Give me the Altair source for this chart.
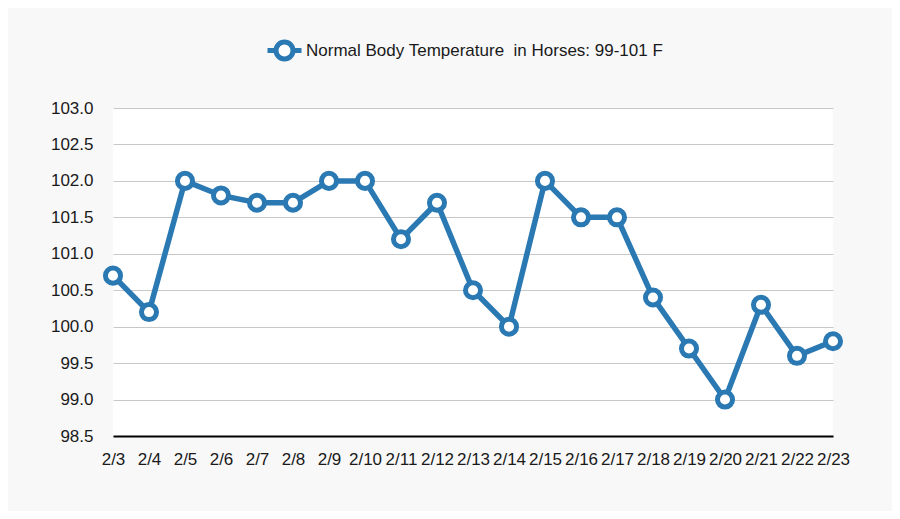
import altair as alt
import pandas as pd

dates = ["2/3", "2/4", "2/5", "2/6", "2/7", "2/8", "2/9", "2/10", "2/11", "2/12",
         "2/13", "2/14", "2/15", "2/16", "2/17", "2/18", "2/19", "2/20", "2/21",
         "2/22", "2/23"]
temps = [100.7, 100.2, 102.0, 101.8, 101.7, 101.7, 102.0, 102.0, 101.2, 101.7,
         100.5, 100.0, 102.0, 101.5, 101.5, 100.4, 99.7, 99.0, 100.3, 99.6, 99.8]
y_ticks = [98.5, 99.0, 99.5, 100.0, 100.5, 101.0, 101.5, 102.0, 102.5, 103.0]
series_name = "Normal Body Temperature \u00a0in Horses: 99-101 F"

df = pd.DataFrame({"date": dates, "temp": temps, "series": [series_name] * len(dates)})

BLUE = "#2a79b3"
FONT = "Liberation Sans"
FS = 17

x = alt.X(
    "date:N", sort=dates,
    scale=alt.Scale(type="point", padding=0),
    axis=alt.Axis(title=None, labelAngle=0, labelFontSize=FS, labelFont=FONT,
                  labelColor="#1a1a1a", domainColor="black", domainWidth=2,
                  ticks=False, labelPadding=15, labelOverlap=False, grid=False),
)
y = alt.Y(
    "temp:Q",
    scale=alt.Scale(domain=[98.5, 103.0], zero=False, nice=False),
    axis=alt.Axis(title=None, values=y_ticks, format=".1f", labelFontSize=FS,
                  labelFont=FONT, labelColor="#1a1a1a", labelPadding=20,
                  ticks=False, domain=False, gridColor="#c8c8c8", gridWidth=1),
)

legend_symbol = "M-1,0H-0.5M0.5,0H1M-0.5,0A0.5,0.5,0,1,1,0.5,0A0.5,0.5,0,1,1,-0.5,0Z"

line = alt.Chart(df).mark_line(strokeWidth=5.5).encode(
    x=x, y=y,
    color=alt.Color(
        "series:N",
        scale=alt.Scale(range=[BLUE]),
        legend=alt.Legend(
            title=None, orient="none", legendX=152, legendY=-77, padding=0,
            symbolType=legend_symbol, symbolSize=1156, symbolStrokeWidth=5,
            symbolStrokeColor=BLUE, symbolFillColor="white",
            labelFontSize=FS, labelFont=FONT, labelColor="#1a1a1a",
            labelLimit=600, labelOffset=2,
        ),
    ),
)
points = alt.Chart(df).mark_point(
    filled=False, fill="white", fillOpacity=1, stroke=BLUE, strokeWidth=5,
    size=227, opacity=1,
).encode(x=x, y=y)

chart = alt.layer(line, points).properties(
    width=720, height=328,
    autosize=alt.AutoSizeParams(type="none"),
    padding={"left": 105, "top": 100, "right": 59, "bottom": 75},
    background="#f8f8f8",
).configure_view(stroke=None, fill="white")

chart.save("out.html", embed_options={"renderer": "svg", "actions": False})
